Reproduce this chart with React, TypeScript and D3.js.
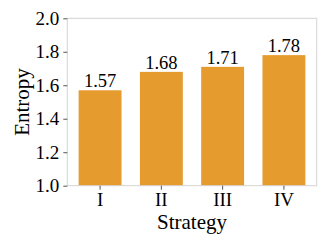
import { useEffect, useRef } from "react";
import * as d3 from "d3";

const strategies = ["I", "II", "III", "IV"];
const entropy = [1.57, 1.68, 1.71, 1.78];
const yTicks = [1.0, 1.2, 1.4, 1.6, 1.8, 2.0];

export default function App() {
  const svgRef = useRef<SVGSVGElement>(null);

  useEffect(() => {
    const width = 329;
    const height = 247;
    const margin = { top: 18.3, right: 12.3, bottom: 61.3, left: 67.3 };
    const svg = d3.select(svgRef.current);
    svg.selectAll("*").remove();

    const innerW = width - margin.left - margin.right;
    const innerH = height - margin.top - margin.bottom;
    const font = "'Liberation Serif', 'Times New Roman', serif";

    const g = svg
      .append("g")
      .attr("transform", `translate(${margin.left},${margin.top})`);

    const x = d3
      .scaleBand()
      .domain(strategies)
      .range([0, innerW])
      .paddingInner(0.3)
      .paddingOuter(0.185);
    const y = d3.scaleLinear().domain([1.0, 2.0]).range([innerH, 0]);

    // bars
    g.selectAll("rect.bar")
      .data(entropy)
      .join("rect")
      .attr("class", "bar")
      .attr("x", (_, i) => x(strategies[i])!)
      .attr("y", (d) => y(d))
      .attr("width", x.bandwidth())
      .attr("height", (d) => innerH - y(d))
      .attr("fill", "#e69b2e");

    // value labels
    g.selectAll("text.val")
      .data(entropy)
      .join("text")
      .attr("class", "val")
      .attr("x", (_, i) => x(strategies[i])! + x.bandwidth() / 2)
      .attr("y", (d) => y(d) - 3)
      .attr("text-anchor", "middle")
      .attr("font-family", font)
      .attr("font-size", 18.5)
      .attr("fill", "#000")
      .text((d) => d.toFixed(2));

    // frame
    g.append("rect")
      .attr("x", 0)
      .attr("y", 0)
      .attr("width", innerW)
      .attr("height", innerH)
      .attr("fill", "none")
      .attr("stroke", "#d4d4d4")
      .attr("stroke-width", 1);

    // y axis
    const yAxis = g
      .append("g")
      .call(
        d3
          .axisLeft(y)
          .tickValues(yTicks)
          .tickSize(4)
          .tickPadding(4)
          .tickFormat(d3.format(".1f"))
      );
    yAxis.select(".domain").remove();
    yAxis.selectAll("line").attr("stroke", "#555");
    yAxis
      .selectAll("text")
      .attr("font-family", font)
      .attr("font-size", 19)
      .attr("fill", "#000");

    // x axis
    const xAxis = g
      .append("g")
      .attr("transform", `translate(0,${innerH})`)
      .call(d3.axisBottom(x).tickSize(4).tickPadding(3));
    xAxis.select(".domain").remove();
    xAxis.selectAll("line").attr("stroke", "#555");
    xAxis
      .selectAll("text")
      .attr("font-family", font)
      .attr("font-size", 19)
      .attr("fill", "#000");

    // axis titles
    svg
      .append("text")
      .attr("x", margin.left + innerW / 2)
      .attr("y", 229)
      .attr("text-anchor", "middle")
      .attr("font-family", font)
      .attr("font-size", 21)
      .text("Strategy");

    svg
      .append("text")
      .attr("transform", `translate(28.5,${margin.top + innerH / 2}) rotate(-90)`)
      .attr("text-anchor", "middle")
      .attr("font-family", font)
      .attr("font-size", 21)
      .text("Entropy");
  }, []);

  return (
    <svg
      ref={svgRef}
      width={329}
      height={247}
      style={{ position: "absolute", left: 0, top: 0, background: "#fff" }}
    />
  );
}
